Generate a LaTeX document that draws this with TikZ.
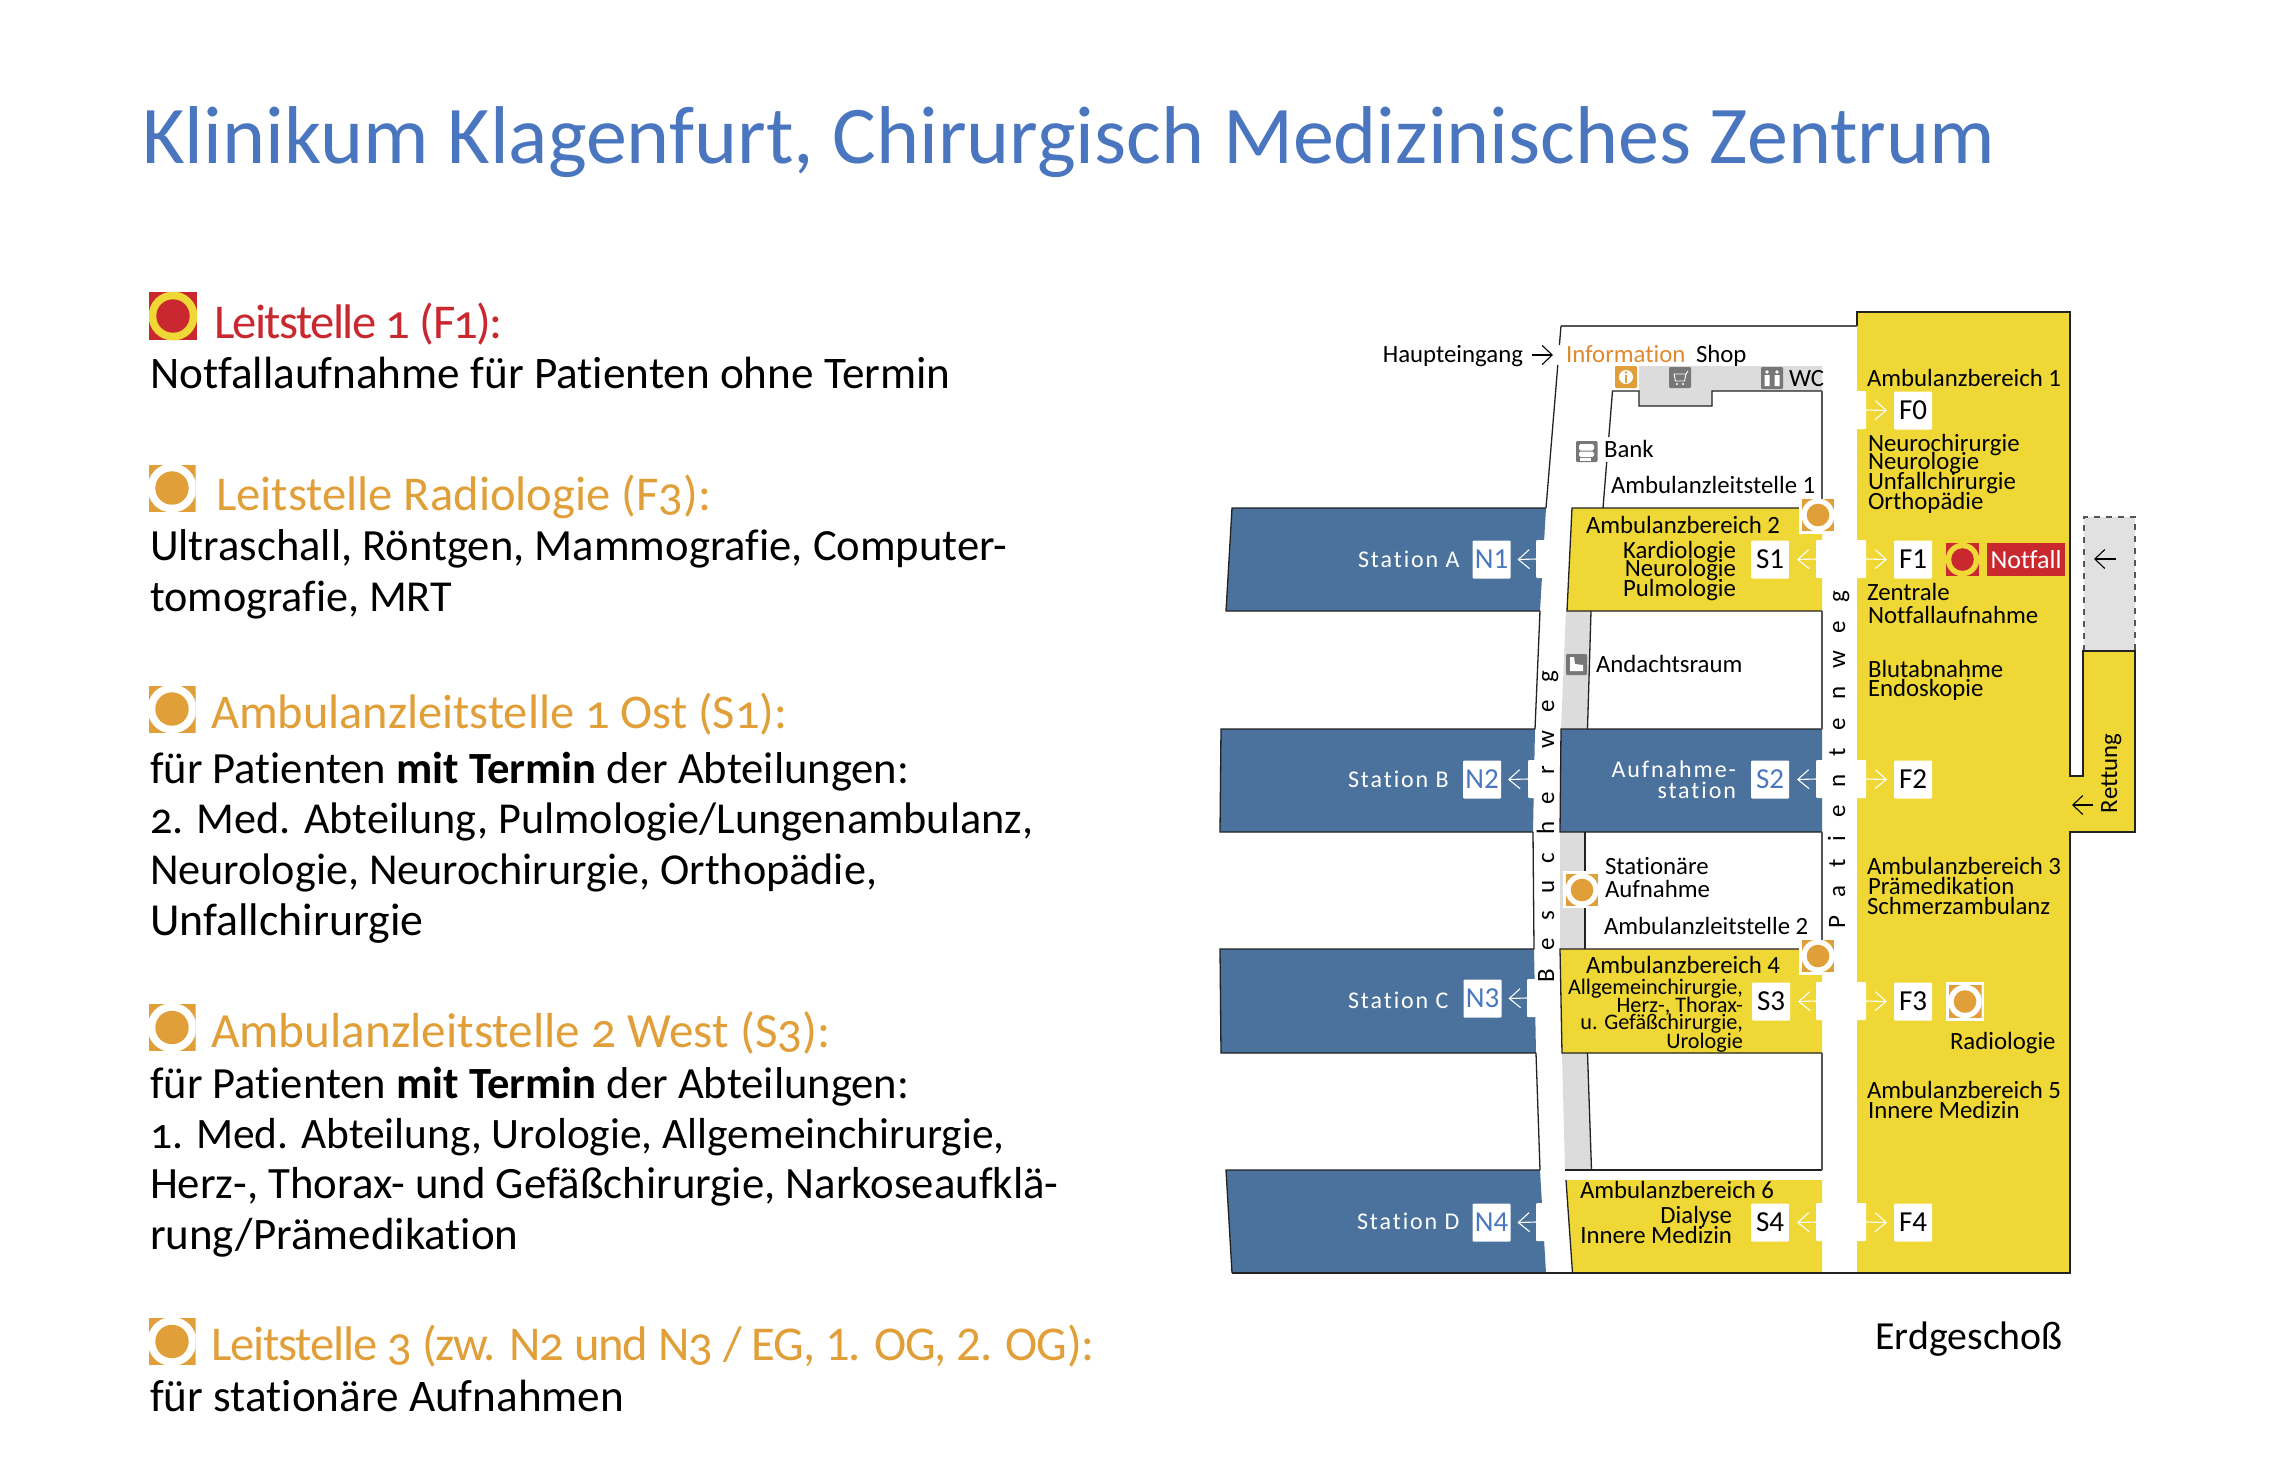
\documentclass[tikz,border=0pt]{standalone}
\usepackage{fontspec}
\usetikzlibrary{arrows.meta}
\setmainfont{Carlito}[Numbers=OldStyle,Ligatures=NoCommon]
\definecolor{yel}{HTML}{EFD836}
\definecolor{blu}{HTML}{4A729C}
\definecolor{org}{HTML}{E09F38}
\definecolor{infoorg}{HTML}{E0892F}
\definecolor{rdd}{HTML}{C9282F}
\definecolor{ttl}{HTML}{4A75BF}
\definecolor{gry}{HTML}{DCDCDC}
\definecolor{icog}{HTML}{777777}
\definecolor{lnk}{HTML}{4A78BE}
\definecolor{wal}{HTML}{222222}
\definecolor{wal2}{HTML}{555555}
\newcommand\TL[5][]{\node[txt,anchor=base west,#1] (#2) at (#3,{#4+1.2}) {#5};}
\newcommand\TR[5][]{\node[txt,anchor=base east,#1] (#2) at (#3,{#4+1.2}) {#5};}
\newcommand\LZ[7]{% x y half colour ring disc-r ring-r
  \begin{scope}
    \clip ({#1-#3},{#2-#3}) rectangle ({#1+#3},{#2+#3});
    \fill[#4] ({#1-#3},{#2-#3}) rectangle ({#1+#3},{#2+#3});
    \fill[#5] (#1,#2) circle [radius=#7];
    \fill[#4] (#1,#2) circle [radius=#6];
  \end{scope}}
\tikzset{
  x=0.5pt,y=-0.5pt,
  txt/.style={inner sep=0pt,outer sep=0pt,font=\fontsize{12.4pt}{13pt}\selectfont\addfontfeature{Numbers=Lining}},
  head/.style={font=\fontsize{#1pt}{26pt}\selectfont,text=org},
  head/.default=24.3,
  body/.style={font=\fontsize{#1pt}{23pt}\selectfont},
  body/.default=22.3,
  small/.style={font=\fontsize{11.1pt}{12pt}\selectfont\addfontfeature{Numbers=Lining}},
  stat/.style={text=white,font=\fontsize{12pt}{13pt}\selectfont\addfontfeature{LetterSpace=8}},
  lab/.style={fill=white,inner sep=0pt,outer sep=0pt,minimum width=19pt,minimum height=19pt,rounded corners=.5pt,font=\fontsize{14.5pt}{15pt}\selectfont\addfontfeature{Numbers=Lining}},
  door/.style={fill=white,inner sep=0pt,outer sep=0pt,minimum width=25pt,minimum height=19pt,rounded corners=.5pt},
  notch/.style={fill=white,inner sep=0pt,outer sep=0pt,minimum width=8pt,minimum height=19pt,rounded corners=.5pt},
  warr/.style={white,line width=.55pt,-{Straight Barb[length=5.5pt,width=9.5pt]}},
  barr/.style={black,line width=.55pt,-{Straight Barb[length=5pt,width=9.5pt]}},
  wl/.style={wal,line width=.65pt},
  wg/.style={wal2,line width=.65pt},
}
\begin{document}
\begin{tikzpicture}
\useasboundingbox (0,0) rectangle (2288,1479);
\fill[white] (0,0) rectangle (2288,1479);

% title
\TL[font=\fontsize{41pt}{42pt}\selectfont,text=ttl]{title}{142}{162}{Klinikum Klagenfurt, Chirurgisch Medizinisches Zentrum}

% legend
\LZ{173}{316}{24}{rdd}{yel}{16.7}{24.5}
\TL[head=24.3,text=rdd]{h1}{214}{337}{\addfontfeature{LetterSpace=-3.3}Leitstelle 1 (F1):}
\TL[body=22.6]{b11}{150}{387}{Notfallaufnahme für Patienten ohne Termin}

\LZ{172}{488}{23.5}{org}{white}{16.7}{24.5}
\TL[head=24.3]{h2}{216}{509}{Leitstelle Radiologie (F3):}
\TL[body=22.3]{b21}{150}{559}{Ultraschall, Röntgen, Mammografie, Computer-}
\TL[body=22.1]{b22}{150}{610}{tomografie, MRT}

\LZ{172}{709}{23.5}{org}{white}{16.7}{24.5}
\TL[head=24.2]{h3}{211}{727}{Ambulanzleitstelle 1 Ost (S1):}
\TL[body=22.3]{b31}{150}{782}{für Patienten \textbf{mit Termin} der Abteilungen:}
\TL[body=22.1]{b32}{150}{832}{2. Med. Abteilung, Pulmologie/Lungenambulanz,}
\TL[body=22.1]{b33}{150}{883}{Neurologie, Neurochirurgie, Orthopädie,}
\TL[body=22.9]{b34}{150}{934}{Unfallchirurgie}

\LZ{172}{1027.5}{23.5}{org}{white}{16.7}{24.5}
\TL[head=24.6]{h4}{211}{1046}{Ambulanzleitstelle 2 West (S3):}
\TL[body=22.3]{b41}{150}{1097}{für Patienten \textbf{mit Termin} der Abteilungen:}
\TL[body=21.7]{b42}{150}{1147}{1. Med. Abteilung, Urologie, Allgemeinchirurgie,}
\TL[body=22.4]{b43}{150}{1197}{Herz-, Thorax- und Gefäßchirurgie, Narkoseaufklä-}
\TL[body=22.5]{b44}{150}{1248}{rung/Prämedikation}

\LZ{172}{1341.5}{23.5}{org}{white}{16.7}{24.5}
\TL[head=24.3]{h5}{211}{1359}{\addfontfeature{LetterSpace=-2.3}Leitstelle 3 (zw. N2 und N3 / EG, {\addfontfeature{Numbers=Lining}1. OG, 2. OG}):}
\TL[body=22.6]{b51}{150}{1410}{für stationäre Aufnahmen}

% ---- plan: dashed rescue bay
\draw[wal2,dashed,fill=gry!85,line width=.6pt] (2084,651) -- (2084,517) -- (2135,517) -- (2135,651);

% gray corridor pieces
\fill[gry] (1566,611) -- (1591,611) -- (1587.5,729) -- (1561,729) -- cycle;
\fill[gry] (1560,832) -- (1585,832) -- (1585,949) -- (1560,949) -- cycle;
\fill[gry] (1562,1053) -- (1587.5,1053) -- (1591.5,1170) -- (1565,1170) -- cycle;
\fill[gry] (1639,366) -- (1822,366) -- (1822,391) -- (1712,391) -- (1712,406) -- (1639,406) -- cycle;

% blue stations
\fill[blu] (1232,508) -- (1546,508) -- (1540,611) -- (1226,611) -- cycle;
\draw[wl] (1546,508) -- (1232,508) -- (1226,611) -- (1540,611);
\fill[blu] (1221,729) -- (1535,729) -- (1533,832) -- (1220,832) -- cycle;
\draw[wl] (1535,729) -- (1221,729) -- (1220,832) -- (1533,832);
\fill[blu] (1220,949) -- (1534,949) -- (1536,1053) -- (1221,1053) -- cycle;
\draw[wl] (1534,949) -- (1220,949) -- (1221,1053) -- (1536,1053);
\fill[blu] (1226,1170) -- (1540,1170) -- (1546,1273) -- (1232,1273) -- cycle;
\draw[wl] (1540,1170) -- (1226,1170) -- (1232,1273);
\fill[blu] (1561,729) -- (1822,729) -- (1822,832) -- (1560,832) -- cycle;
\draw[wl] (1822,729) -- (1561,729) -- (1560,832) -- (1822,832);

% yellow rooms
\fill[yel] (1572,508) -- (1822,508) -- (1822,611) -- (1567,611) -- cycle;
\draw[wl] (1822,508) -- (1572,508) -- (1567,611) -- (1822,611);
\fill[yel] (1560,949) -- (1822,949) -- (1822,1053) -- (1562,1053) -- cycle;
\draw[wl] (1822,949) -- (1560,949) -- (1562,1053) -- (1822,1053);
\fill[yel] (1566,1180) -- (1822,1180) -- (1822,1273) -- (1572.5,1273) -- cycle;
\draw[wl] (1566,1180) -- (1572.5,1273);

% main yellow wing
\fill[yel] (1857,312) -- (2070,312) -- (2070,776) -- (2083,776) -- (2083,651) -- (2135,651) -- (2135,832) -- (2070,832) -- (2070,1273) -- (1857,1273) -- cycle;
\draw[wl,line join=miter] (1857,326) -- (1857,312) -- (2070,312) -- (2070,776) -- (2083,776) -- (2083,651) -- (2135,651) -- (2135,832) -- (2070,832) -- (2070,1273) -- (1232,1273);

% walls
\draw[wg] (1857,326) -- (1561,326);
\draw[wl] (1561,326) -- (1559.4,345);
\draw[wl] (1557.8,365) -- (1546,508);
\draw[wl] (1540,611) -- (1535,729);
\draw[wl] (1533,832) -- (1534,949);
\draw[wl] (1536,1053) -- (1540,1170);
\draw[wl] (1591,611) -- (1587.5,729);
\draw[wl] (1585,832) -- (1585,949);
\draw[wl] (1587.5,1053) -- (1591.5,1170);
\draw[wl] (1565,1170) -- (1822,1170);
\draw[wl] (1603,508) -- (1606.7,462);
\draw[wl] (1608.8,437) -- (1612.5,391) -- (1639,391) -- (1639,406) -- (1712,406) -- (1712,391) -- (1822,391);
\draw[wg] (1822,391) -- (1822,508);
\draw[wg] (1822,611) -- (1822,729);
\draw[wg] (1822,832) -- (1822,949);
\draw[wg] (1822,1053) -- (1822,1170);

% doors, labels, white arrows
\node[door] (dS1) at (1841,559) {};
\node[door] (dS2) at (1841,779) {};
\node[door] (dS3) at (1841,1001) {};
\node[door] (dS4) at (1841,1222) {};
\node[door,minimum width=8pt] (dF0) at (1858,410) {};
\node[notch] (nN1) at (1544,559) {};
\node[notch] (nN2) at (1536,779) {};
\node[notch] (nN3) at (1535,998) {};
\node[notch] (nN4) at (1544,1222) {};

\node[lab] (F0) at (1913,410.5) {F0};
\node[lab] (F1) at (1913,559.5) {F1};
\node[lab] (F2) at (1913,779.5) {F2};
\node[lab] (F3) at (1913,1001.5) {F3};
\node[lab] (F4) at (1913,1222.5) {F4};
\node[lab] (S1) at (1770,559.5) {S1};
\node[lab,text=lnk] (S2) at (1770,779.5) {S2};
\node[lab] (S3) at (1771,1001.5) {S3};
\node[lab] (S4) at (1770,1222.5) {S4};
\node[lab,text=lnk] (N1) at (1491.5,559.5) {N1};
\node[lab,text=lnk] (N2) at (1482,779.5) {N2};
\node[lab,text=lnk] (N3) at (1482.5,998.5) {N3};
\node[lab,text=lnk] (N4) at (1491.5,1222.5) {N4};

\draw[warr] (dF0.east) -- ([xshift=-3.5pt]F0.west);
\draw[warr] (dS1.east) -- ([xshift=-3.5pt]F1.west);
\draw[warr] (dS2.east) -- ([xshift=-3.5pt]F2.west);
\draw[warr] (dS3.east) -- ([xshift=-3.5pt]F3.west);
\draw[warr] (dS4.east) -- ([xshift=-3.5pt]F4.west);
\draw[warr] (dS1.west) -- ([xshift=4pt]S1.east);
\draw[warr] (dS2.west) -- ([xshift=4pt]S2.east);
\draw[warr] (dS3.west) -- ([xshift=4pt]S3.east);
\draw[warr] (dS4.west) -- ([xshift=4pt]S4.east);
\draw[warr] (nN1.west) -- ([xshift=3.5pt]N1.east);
\draw[warr] (nN2.west) -- ([xshift=3.5pt]N2.east);
\draw[warr] (nN3.west) -- ([xshift=3.5pt]N3.east);
\draw[warr] (nN4.west) -- ([xshift=3.5pt]N4.east);

% black arrows
\coordinate (ha) at (1532,355); \coordinate (hb) at (1553,355);
\draw[barr] (ha) -- (hb);
\coordinate (ra) at (2116,559); \coordinate (rb) at (2094,559);
\draw[barr] (ra) -- (rb);
\coordinate (sa) at (2093,805); \coordinate (sb) at (2072,805);
\draw[barr] (sa) -- (sb);

% station icons
\fill[white] (1799,499) rectangle (1834,534);
\LZ{1818}{515}{16}{org}{white}{11.3}{16.6}
\fill[white] (1799,940) rectangle (1834,975);
\LZ{1818}{956}{16}{org}{white}{11.3}{16.6}
\fill[white] (1563,871) rectangle (1598,908);
\LZ{1582}{890}{16}{org}{white}{11.3}{16.6}
\fill[white] (1946,982) rectangle (1984,1021);
\LZ{1965}{1001.5}{16.5}{org}{white}{11.3}{16.8}
\LZ{1962.5}{559.5}{16.5}{rdd}{yel}{11.3}{16.8}
\node[fill=rdd,inner sep=0pt,outer sep=0pt,minimum width=39pt,minimum height=16.5pt,text=white,font=\fontsize{13pt}{14pt}\selectfont] (notf) at (2026,559.5) {Notfall};

% small grey icons
\fill[org,rounded corners=.6pt] (1615,366) rectangle (1637,388);
\fill[white] (1626,377) circle [radius=7];
\fill[org] (1624.8,375) rectangle (1627.2,382.5);
\fill[org] (1626,372.5) circle [radius=1.4];

\fill[icog,rounded corners=.6pt] (1669,367) rectangle (1691,388);
\draw[white,line width=.45pt] (1674,374) -- (1686,374) -- (1684.5,381) -- (1675.5,381) -- cycle (1686,374) -- (1688,371);
\fill[white] (1677,384) circle [radius=1.1] (1683,384) circle [radius=1.1];

\fill[icog,rounded corners=.6pt] (1761,367) rectangle (1783,389);
\fill[white] (1767,372) circle [radius=1.8] (1777,372) circle [radius=1.8];
\fill[white] (1764.5,375) rectangle (1769.5,386) (1774.5,375) rectangle (1779.5,386);

\fill[icog,rounded corners=.6pt] (1576,441) rectangle (1597.5,462);
\fill[white,rounded corners=.8pt] (1579,444) rectangle (1594,450.5);
\fill[white,rounded corners=.8pt] (1579,451.5) rectangle (1594,457);
\fill[white] (1580,458) rectangle (1591,460.5);

\fill[icog,rounded corners=.6pt] (1566,654) rectangle (1587,675);
\fill[white] (1570,657) -- (1574,657) -- (1575,664) -- (1583,665) -- (1583,671) -- (1570,671) -- cycle;

% plan text
\TR{hpt}{1523}{361}{Haupteingang}
\TL[text=infoorg]{inf}{1566}{361}{Information}
\TL{shp}{1696}{361}{Shop}
\TL{wc}{1789}{385}{WC}
\TL{bnk}{1604}{456}{Bank}
\TL{al1}{1611}{492}{Ambulanzleitstelle 1}
\TL{ab2}{1586}{532}{Ambulanzbereich 2}
\TR{kar}{1736}{557}{Kardiologie}
\TR{neu}{1736}{575}{Neurologie}
\TR{pul}{1736}{595}{Pulmologie}
\TL[stat]{sa}{1358}{566}{Station A}
\TL[stat]{sb}{1348}{786}{Station B}
\TL[stat]{sc}{1348}{1007}{Station C}
\TL[stat]{sd}{1357}{1228}{Station D}
\TL{an}{1596}{671}{Andachtsraum}
\TR[stat]{auf}{1736}{776}{Aufnahme-}
\TR[stat]{sta}{1736}{797}{station}
\TL{st1}{1605}{873}{Stationäre}
\TL{st2}{1605}{896}{Aufnahme}
\TL{al2}{1604}{933}{Ambulanzleitstelle 2}
\TL{ab4}{1586}{972}{Ambulanzbereich 4}
\TR[small]{c1}{1743}{993}{Allgemeinchirurgie,}
\TR[small]{c2}{1743}{1011}{Herz-, Thorax-}
\TR[small]{c3}{1743}{1028}{u. Gefäßchirurgie,}
\TR[small]{c4}{1743}{1047}{Urologie}
\TL{ab6}{1580}{1197}{Ambulanzbereich 6}
\TR{dia}{1732}{1222}{Dialyse}
\TR{inn}{1732}{1242}{Innere Medizin}

\TL{ab1}{1867}{385}{Ambulanzbereich 1}
\TL{r1}{1868}{450}{Neurochirurgie}
\TL{r2}{1868}{468}{Neurologie}
\TL{r3}{1868}{488}{Unfallchirurgie}
\TL{r4}{1868}{508}{Orthopädie}
\TL{z1}{1867}{599}{Zentrale}
\TL{z2}{1868}{622}{Notfallaufnahme}
\TL{bl}{1868}{676}{Blutabnahme}
\TL{en}{1868}{695}{Endoskopie}
\TL{ab3}{1867}{873}{Ambulanzbereich 3}
\TL{pr}{1868}{893}{Prämedikation}
\TL{sc2}{1867}{913}{Schmerzambulanz}
\TL{rad}{1950}{1048}{Radiologie}
\TL{ab5}{1867}{1097}{Ambulanzbereich 5}
\TL{in5}{1868}{1117}{Innere Medizin}
\TL[font=\fontsize{19.9pt}{21pt}\selectfont]{eg}{1875.5}{1348}{Erdgeschoß}

\node[txt,anchor=base west,rotate=90] (ret) at (2117,813) {Rettung};
\node[txt,anchor=base west,rotate=90,font=\fontsize{12.5pt}{13pt}\selectfont\addfontfeature{LetterSpace=72}] (pw) at (1845,928) {Patientenweg};
\node[txt,anchor=base west,rotate=90,font=\fontsize{12.5pt}{13pt}\selectfont\addfontfeature{LetterSpace=70}] (bw) at (1554,982) {Besucherweg};
\end{tikzpicture}
\end{document}
